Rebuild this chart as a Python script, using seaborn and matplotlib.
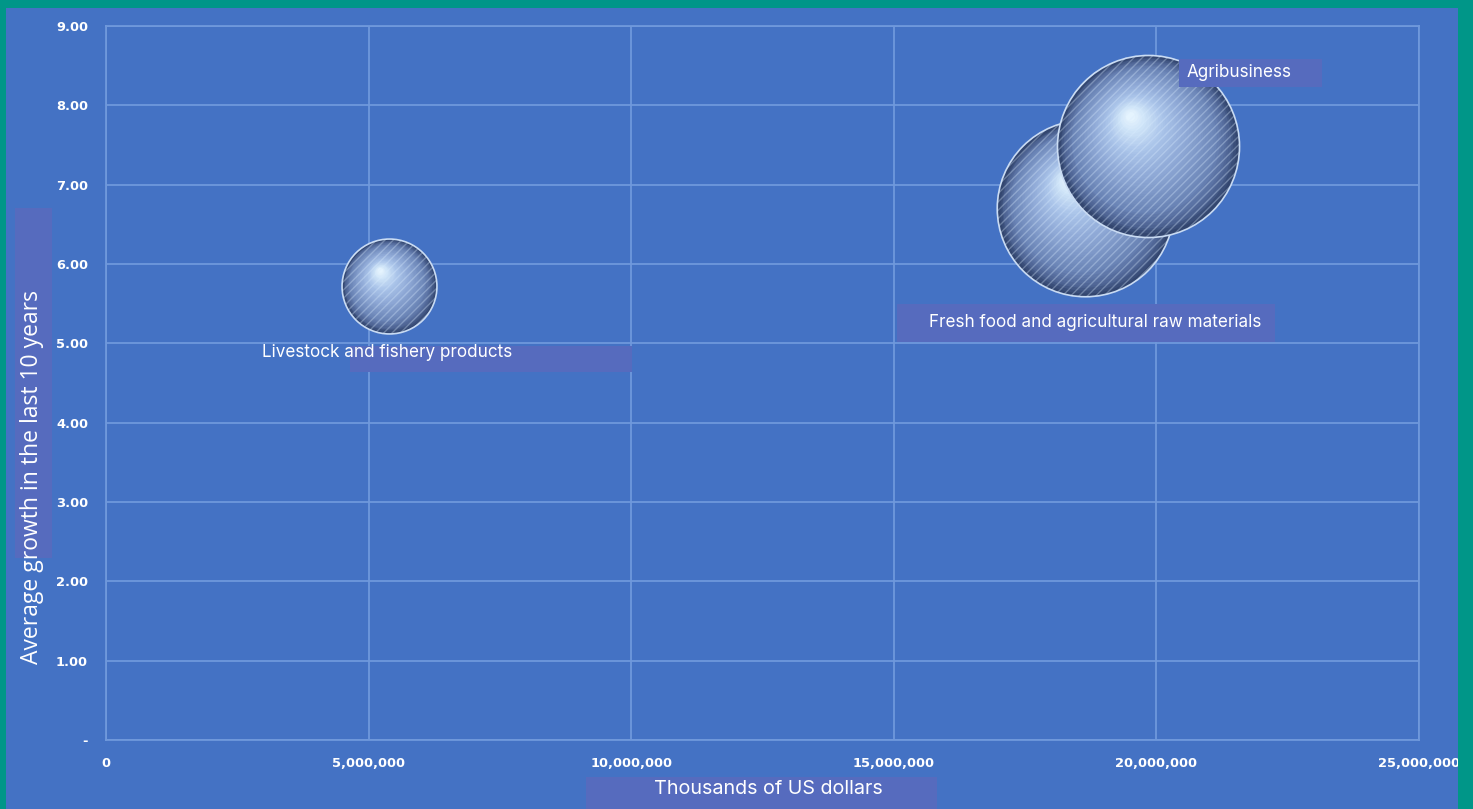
import numpy as np
import pandas as pd
import seaborn as sns
import matplotlib
matplotlib.use("Agg")
import matplotlib.pyplot as plt
from matplotlib import transforms
from matplotlib.patches import Rectangle
from matplotlib.colors import LinearSegmentedColormap

# ---- data ----
categories = ["Livestock and fishery products",
              "Fresh food and agricultural raw materials",
              "Agribusiness"]
export_value = [5_390_000, 18_650_000, 19_840_000]     # thousands of US dollars
avg_growth = [5.72, 6.70, 7.49]                         # average growth, last 10 years
bubble_size = [5_390_000, 18_650_000, 19_840_000]       # bubble area follows export value

x_ticks = [0, 5_000_000, 10_000_000, 15_000_000, 20_000_000, 25_000_000]
x_tick_labels = ["0", "5,000,000", "10,000,000", "15,000,000", "20,000,000", "25,000,000"]
y_ticks = [0, 1, 2, 3, 4, 5, 6, 7, 8, 9]
y_tick_labels = ["-", "1.00", "2.00", "3.00", "4.00", "5.00", "6.00", "7.00", "8.00", "9.00"]

df = pd.DataFrame({"category": categories, "value": export_value,
                   "growth": avg_growth, "size": bubble_size})

# ---- style ----
BG = "#4472c4"
FRAME = "#009688"
GRID = "#7099dc"
BOX = "#566bbe"
TXT = "#ffffff"

sns.set_theme(style="white")
plt.rcParams["font.family"] = ["DejaVu Sans"]
plt.rcParams["hatch.linewidth"] = 1.0

W, H, DPI = 1473, 809, 100
fig = plt.figure(figsize=(W / DPI, H / DPI), dpi=DPI, facecolor=BG)
ax = fig.add_axes([106 / W, 1 - 740 / H, (1419 - 106) / W, (740 - 26) / H])
ax.set_facecolor(BG)

ax.set_xlim(0, 25_000_000)
ax.set_ylim(0, 9)
ax.set_xticks(x_ticks)
ax.set_xticklabels(x_tick_labels)
ax.set_yticks(y_ticks)
ax.set_yticklabels(y_tick_labels)
ax.tick_params(axis="both", length=0, colors=TXT, labelsize=9.4)
ax.tick_params(axis="y", pad=13)
ax.tick_params(axis="x", pad=12)
for lab in ax.get_xticklabels() + ax.get_yticklabels():
    lab.set_fontweight("bold")
ax.grid(True, color=GRID, lw=1.4, alpha=0.9)
ax.set_axisbelow(True)
for sp in ax.spines.values():
    sp.set_color(GRID)
    sp.set_linewidth(1.4)
    sp.set_alpha(0.9)

# ---- bubbles: largest bubble spans a quarter of the plot height ----
ax_h_pt = ax.get_position().height * H / DPI * 72
d_max = 0.255 * ax_h_pt
s_max = d_max ** 2
size_max = max(bubble_size)

shade = LinearSegmentedColormap.from_list(
    "sphere",
    [(0.0, "#33466f"), (0.07, "#4d6393"), (0.2, "#6a84b6"), (0.45, "#8aa4d2"),
     (0.7, "#a9c3e9"), (0.88, "#cfe4f8"), (1.0, "#e9f7ff")])

N_LAYERS = 45
for i, row in df.iterrows():
    z = 3 + i * 100
    sub = df.iloc[[i]]
    sns.scatterplot(data=sub, x="value", y="growth", size="size",
                    sizes=(0, s_max), size_norm=(0, size_max), legend=False,
                    color=shade(0.0), edgecolor="#c9dbf3", linewidth=1.2,
                    zorder=z, ax=ax)
    d = np.sqrt(s_max * row["size"] / size_max)
    r = d / 2
    hx, hy = -0.20 * r, 0.34 * r
    for k in range(1, N_LAYERS):
        t = k / N_LAYERS
        dk = d * (1 - 0.97 * t) * 0.985
        tr = transforms.offset_copy(ax.transData, fig=fig, x=hx * t, y=hy * t,
                                    units="points")
        ax.scatter([row["value"]], [row["growth"]], s=dk ** 2, color=shade(t),
                   linewidths=0, transform=tr, zorder=z + k * 0.1)
    # fine diagonal striping over the sphere
    ax.scatter([row["value"]], [row["growth"]], s=d ** 2, facecolor="none",
               edgecolor=(0.86, 0.93, 1.0, 0.32), hatch="////", linewidths=0,
               zorder=z + 50)

# ---- data labels ----
label_font = ["Inter", "DejaVu Sans"]
label_offsets = {  # offset from bubble centre, points
    "Agribusiness": ((27.5, 52.5), "left"),
    "Fresh food and agricultural raw materials": ((7.0, -82.0), "center"),
    "Livestock and fishery products": ((-91.5, -47.5), "left"),
}
for _, row in df.iterrows():
    (ox, oy), ha = label_offsets[row["category"]]
    ax.annotate(row["category"], (row["value"], row["growth"]),
                xytext=(ox, oy), textcoords="offset points",
                ha=ha, va="center", color=TXT, fontsize=12.3,
                family=label_font, zorder=500, annotation_clip=False)


# ---- label panels (pixel boxes) ----
def px_rect(x0, y0, x1, y1, color, z):
    return Rectangle((x0 / W, 1 - y1 / H), (x1 - x0) / W, (y1 - y0) / H,
                     transform=fig.transFigure, facecolor=color,
                     edgecolor="none", zorder=z)


# panels behind the axis titles (below the axes layer)
fig.patches.append(px_rect(15, 208, 52, 558, BOX, -1))
fig.patches.append(px_rect(586, 777, 937, 809, BOX, -1))

# panels behind the data labels sit inside the plot
for (x0, y0, x1, y1) in [(1179, 59, 1322, 87), (897, 304, 1275, 342), (350, 346, 632, 372)]:
    ax.add_patch(px_rect(x0, y0, x1, y1, BOX, 400))

# ---- axis titles ----
ax.set_xlabel("Thousands of US dollars", color=TXT, fontsize=14.2,
              family=label_font, va="center")
ax.xaxis.set_label_coords((768 - 106) / 1313, (740 - 789) / 714)
ax.set_ylabel("Average growth in the last 10 years", color=TXT, fontsize=16.5,
              family=["Open Sans", "DejaVu Sans"], va="center")
ax.yaxis.set_label_coords((32 - 106) / 1313, (740 - 477) / 714)

# ---- teal outer frame (on top so it trims the last tick label) ----
for (x0, y0, x1, y1) in [(0, 0, 6, H), (0, 0, W, 8), (1458, 0, W, H)]:
    fig.patches.append(px_rect(x0, y0, x1, y1, FRAME, 10))

fig.savefig("out.png", dpi=DPI, facecolor=BG)
